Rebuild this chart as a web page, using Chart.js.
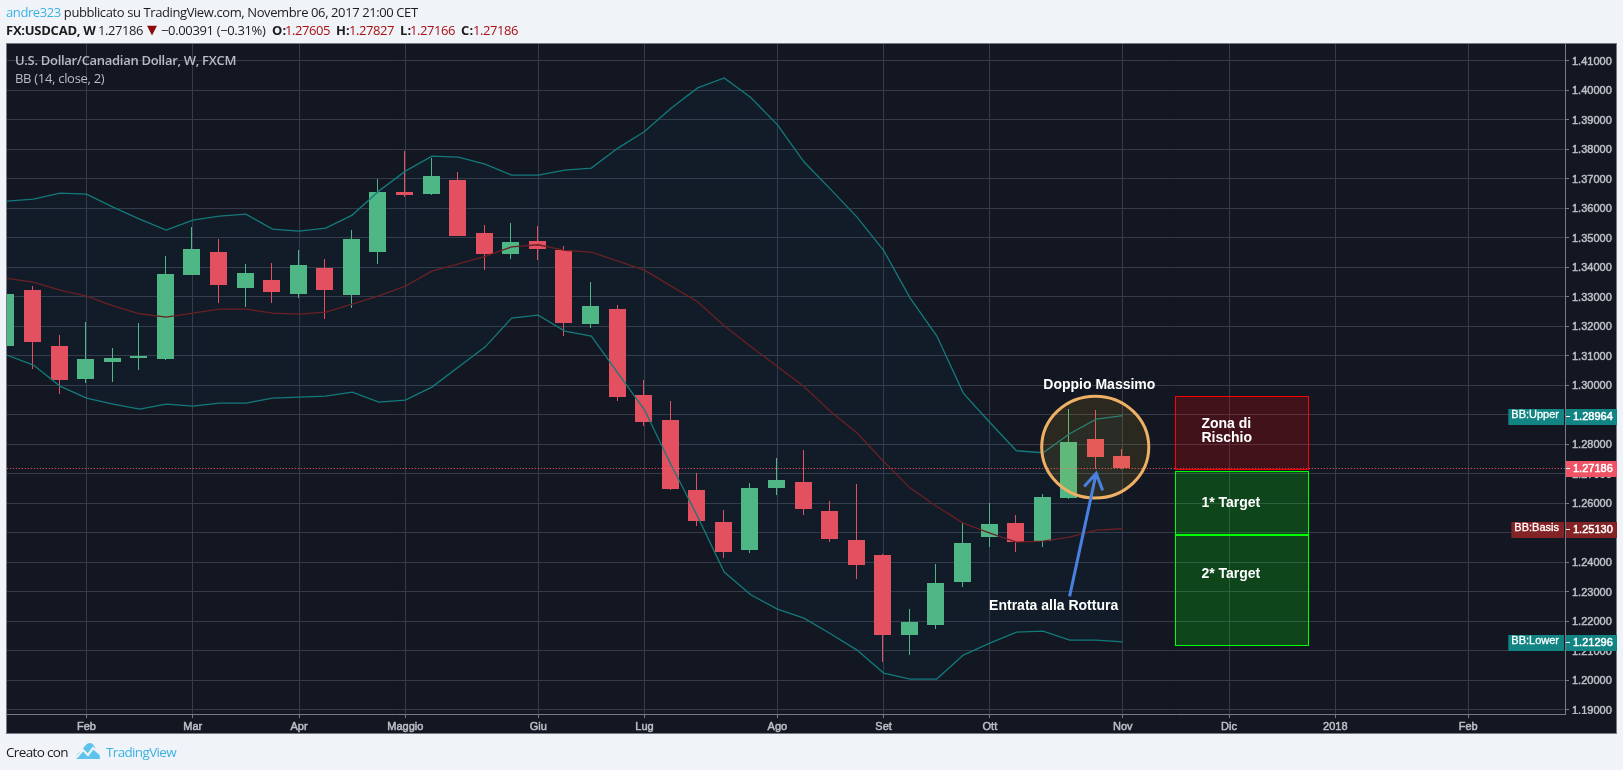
<!DOCTYPE html>
<html>
<head>
<meta charset="utf-8">
<title>USDCAD weekly</title>
<script src="https://cdn.jsdelivr.net/npm/chart.js@4"></script>
<style>
  html, body { margin: 0; padding: 0; background: #f0f3f7; overflow: hidden; }
  body { position: relative; width: 1623px; height: 770px; font-family: "Open Sans", sans-serif; color: #1c1c1c; }
  .panel { position: absolute; left: 6px; top: 43px; width: 1609px; height: 689px; background: #131722; border: 1px solid #787b86; }
  canvas { position: absolute; left: 0; top: 0; }
  .line { position: absolute; left: 6px; white-space: nowrap; font-size: 13px; line-height: 18px; }
  .row1 { letter-spacing: -0.4px; }
  .foot { font-size: 13.5px; letter-spacing: -0.65px; }
  .cell { position: absolute; top: 21px; white-space: nowrap; font-size: 13px; line-height: 18px; letter-spacing: -0.45px; }
  .cell.b { font-weight: 700; letter-spacing: 0.1px; }
  .user, .brand { color: #3bb3e4; }
  .red { color: #a80f14; }
  .tri { color: #8b0a0a; font-family: "DejaVu Sans"; font-size: 13px; letter-spacing: 0; }
  .legend { position: absolute; left: 15px; white-space: nowrap; font-size: 13px; line-height: 18px; color: #b8bbc4; letter-spacing: -0.3px; }
  .logo { position: absolute; left: 76px; top: 743px; }
</style>
</head>
<body>
<div class="panel"></div>
<canvas id="chart" width="1623" height="770"></canvas>
<div class="line row1" style="top:3px"><span class="user">andre323</span> pubblicato su TradingView.com, Novembre 06, 2017 21:00 CET</div>
<span class="cell b" style="left:6px;letter-spacing:-0.25px">FX:USDCAD, W</span>
<span class="cell" style="left:98px">1.27186</span>
<span class="cell tri" style="left:147px">▼</span>
<span class="cell" style="left:161px;letter-spacing:-0.35px">−0.00391 (−0.31%)</span>
<span class="cell b" style="left:272px">O:</span>
<span class="cell red" style="left:285px">1.27605</span>
<span class="cell b" style="left:336px">H:</span>
<span class="cell red" style="left:349px">1.27827</span>
<span class="cell b" style="left:400px">L:</span>
<span class="cell red" style="left:410px">1.27166</span>
<span class="cell b" style="left:461px">C:</span>
<span class="cell red" style="left:473px">1.27186</span>
<div class="legend" style="top:51px;font-weight:600">U.S. Dollar/Canadian Dollar, W, FXCM</div>
<div class="legend" style="top:69px">BB (14, close, 2)</div>
<div class="line foot" style="top:743px">Creato con</div>
<svg class="logo" width="24" height="16" viewBox="0 0 24 16">
  <path fill="#5cc4ec" d="M0 16 C0 11 3 9 6 8 C8 3 11 0 14 0 C17 0 19 4 20 7 C23 8 24 12 24 16 Z"/>
  <path fill="none" stroke="#f0f3f7" stroke-width="2.2" d="M0 15 L7 7 L12 12 L17 5 L24 11"/>
</svg>
<div class="line foot brand" style="top:743px;left:106px">TradingView</div>
<script>
// weekly candles, oldest first
const opens = [1.31333, 1.33232, 1.31333, 1.30215, 1.30791, 1.30927, 1.30893, 1.33740, 1.34520, 1.33299, 1.33571, 1.33096, 1.33977, 1.33062, 1.34520, 1.36554, 1.36486, 1.36960, 1.35164, 1.34452, 1.34893, 1.34588, 1.32079, 1.32588, 1.29672, 1.28825, 1.26452, 1.25367, 1.24418, 1.26520, 1.26723, 1.25740, 1.24757, 1.24249, 1.21537, 1.21876, 1.23333, 1.24859, 1.25333, 1.24723, 1.26181, 1.28181, 1.27605];
const highs = [1.33300, 1.33367, 1.31706, 1.32147, 1.31266, 1.32113, 1.34384, 1.35367, 1.34960, 1.34113, 1.34147, 1.34588, 1.34282, 1.35266, 1.36994, 1.37944, 1.37706, 1.37232, 1.35435, 1.35503, 1.35401, 1.34723, 1.33503, 1.32723, 1.30181, 1.29469, 1.27028, 1.25774, 1.26689, 1.27537, 1.27808, 1.26079, 1.26655, 1.24282, 1.22418, 1.23944, 1.25322, 1.26011, 1.25605, 1.26316, 1.29198, 1.29164, 1.27827];
const lows = [1.31000, 1.30554, 1.29706, 1.30079, 1.30113, 1.30520, 1.30859, 1.33740, 1.32791, 1.32655, 1.32791, 1.32960, 1.32249, 1.32622, 1.34113, 1.36384, 1.36452, 1.35062, 1.33910, 1.34282, 1.34249, 1.31672, 1.31944, 1.29469, 1.28621, 1.26452, 1.25232, 1.24147, 1.24316, 1.26282, 1.25605, 1.24689, 1.23435, 1.20621, 1.20859, 1.21740, 1.23164, 1.24520, 1.24350, 1.24520, 1.26147, 1.27164, 1.27166];
const closes = [1.33096, 1.31469, 1.30181, 1.30893, 1.30927, 1.30994, 1.33774, 1.34621, 1.33401, 1.33808, 1.33164, 1.34079, 1.33232, 1.34960, 1.36554, 1.36452, 1.37096, 1.35062, 1.34452, 1.34859, 1.34621, 1.32113, 1.32689, 1.29605, 1.28757, 1.26486, 1.25401, 1.24350, 1.26520, 1.26791, 1.25808, 1.24791, 1.23910, 1.21537, 1.21977, 1.23299, 1.24655, 1.25299, 1.24689, 1.26215, 1.28079, 1.27571, 1.27186];

// Bollinger bands (14, close, 2)
const bbUpper = [1.36237, 1.36305, 1.36508, 1.36475, 1.36034, 1.35627, 1.35254, 1.35593, 1.35729, 1.35797, 1.35288, 1.35220, 1.35322, 1.35763, 1.36576, 1.37254, 1.37763, 1.37729, 1.37492, 1.37119, 1.37119, 1.37288, 1.37356, 1.38034, 1.38594, 1.39384, 1.40075, 1.40414, 1.39746, 1.38832, 1.37571, 1.36644, 1.35695, 1.34565, 1.32949, 1.31672, 1.29729, 1.28734, 1.27774, 1.27706, 1.28350, 1.28847, 1.28964];
const bbBasis = [1.33616, 1.33492, 1.33220, 1.33017, 1.32689, 1.32418, 1.32305, 1.32441, 1.32576, 1.32576, 1.32441, 1.32407, 1.32475, 1.32746, 1.33028, 1.33356, 1.33864, 1.34113, 1.34362, 1.34689, 1.34757, 1.34565, 1.34508, 1.34203, 1.33898, 1.33356, 1.32825, 1.32011, 1.31311, 1.30633, 1.29955, 1.29107, 1.28373, 1.27412, 1.26508, 1.25887, 1.25322, 1.24983, 1.24678, 1.24712, 1.24847, 1.25085, 1.25130];
const bbLower = [1.31017, 1.30678, 1.29966, 1.29559, 1.29356, 1.29186, 1.29356, 1.29288, 1.29390, 1.29390, 1.29559, 1.29593, 1.29627, 1.29763, 1.29424, 1.29492, 1.29932, 1.30610, 1.31288, 1.32271, 1.32373, 1.31831, 1.31661, 1.30407, 1.29164, 1.27299, 1.25548, 1.23661, 1.22893, 1.22407, 1.22102, 1.21571, 1.21017, 1.20237, 1.20034, 1.20034, 1.20847, 1.21254, 1.21627, 1.21661, 1.21356, 1.21356, 1.21296];

const lastPrice = 1.27186;
const priceTicks = [1.19, 1.20, 1.21, 1.22, 1.23, 1.24, 1.25, 1.26, 1.27, 1.28, 1.29, 1.30, 1.31, 1.32, 1.33, 1.34, 1.35, 1.36, 1.37, 1.38, 1.39, 1.40, 1.41];
const monthTicks = [3, 7, 11, 15, 20, 24, 29, 33, 37, 42, 46, 50, 55];
const monthLabels = ["Feb", "Mar", "Apr", "Maggio", "Giu", "Lug", "Ago", "Set", "Ott", "Nov", "Dic", "2018", "Feb"];

// drawings on the chart: bar index from/to, price top/bottom
const riskZone = [43.97, 48.97, 1.29615, 1.27142];
const target1 = [43.97, 48.97, 1.27098, 1.24957];
const target2 = [43.97, 48.97, 1.24923, 1.21185];
const circleBox = [38.95, 42.98, 1.29626, 1.26170];
const arrowFrom = [40, 1.22840];
const arrowTo = [41, 1.27007];

const GREEN = "#4fb786", RED = "#e35060", TEAL = "#137a7c", MAROON = "#6a2024";
const GRID = "#363a4a", AXIS = "#787b86", TICK_TEXT = "#bcbfc6";
const PANEL_BG = "#131722";
const TEXT_FONT = 'bold 14px "Liberation Sans", Arial, sans-serif';
const TAG_FONT = '11px "Liberation Sans", Arial, sans-serif';

const indexes = opens.map((_, i) => i);
const candleColors = opens.map((o, i) => (closes[i] >= o ? GREEN : RED));
const bandPoints = (values) => values.map((y, i) => ({ x: i, y }));

// bars land on whole pixels so the 1px wicks stay sharp, same for the last price line
const snapBars = {
  id: "snapBars",
  afterDatasetsUpdate(chart) {
    chart.data.datasets.forEach((ds, i) => {
      const meta = chart.getDatasetMeta(i);
      if (meta.type === "bar") {
        meta.data.forEach((bar) => {
          bar.x = Math.floor(bar.x - 0.8) + 0.5;
          bar.y = Math.round(bar.y);
          bar.base = Math.round(bar.base);
        });
      } else if (ds.borderDash) {
        meta.data.forEach((pt) => {
          pt.y = Math.floor(pt.y) + 0.5;
        });
      }
    });
  },
};

const drawZone = (ctx, sx, sy, zone, fill, stroke) => {
  const left = Math.round(sx.getPixelForValue(zone[0])) + 0.5;
  const right = Math.round(sx.getPixelForValue(zone[1])) + 0.5;
  const top = Math.round(sy.getPixelForValue(zone[2])) + 0.5;
  const bottom = Math.round(sy.getPixelForValue(zone[3])) + 0.5;
  ctx.fillStyle = fill;
  ctx.fillRect(left, top, right - left, bottom - top);
  ctx.strokeStyle = stroke;
  ctx.lineWidth = 1;
  ctx.strokeRect(left, top, right - left, bottom - top);
};

const drawings = {
  id: "drawings",
  afterDatasetsDraw(chart) {
    const { ctx, scales, chartArea } = chart;
    const sx = scales.x, sy = scales.y;
    ctx.save();

    drawZone(ctx, sx, sy, riskZone, "rgba(255,0,0,0.2)", "#ff0000");
    drawZone(ctx, sx, sy, target1, "rgba(0,255,0,0.2)", "#00ff00");
    drawZone(ctx, sx, sy, target2, "rgba(0,255,0,0.2)", "#00ff00");

    // circle round the double top
    const cx0 = sx.getPixelForValue(circleBox[0]), cx1 = sx.getPixelForValue(circleBox[1]);
    const cy0 = sy.getPixelForValue(circleBox[2]), cy1 = sy.getPixelForValue(circleBox[3]);
    ctx.beginPath();
    ctx.ellipse((cx0 + cx1) / 2, (cy0 + cy1) / 2, (cx1 - cx0) / 2, (cy1 - cy0) / 2, 0, 0, Math.PI * 2);
    ctx.fillStyle = "rgba(255,198,20,0.1)";
    ctx.fill();
    ctx.strokeStyle = "#eeb064";
    ctx.lineWidth = 3;
    ctx.stroke();

    // arrow
    const ax0 = sx.getPixelForValue(arrowFrom[0]), ay0 = sy.getPixelForValue(arrowFrom[1]);
    const ax1 = sx.getPixelForValue(arrowTo[0]), ay1 = sy.getPixelForValue(arrowTo[1]);
    ctx.strokeStyle = "#4a80e0";
    ctx.lineWidth = 3;
    ctx.beginPath();
    ctx.moveTo(ax0, ay0);
    ctx.lineTo(ax1, ay1);
    ctx.moveTo(ax1 - 12, ay1 + 13);
    ctx.lineTo(ax1, ay1);
    ctx.lineTo(ax1 + 6.5, ay1 + 17);
    ctx.stroke();

    // labels of the drawings
    ctx.fillStyle = "#ffffff";
    ctx.font = TEXT_FONT;
    ctx.textBaseline = "middle";
    ctx.textAlign = "center";
    ctx.fillText("Doppio Massimo", sx.getPixelForValue(41.12), sy.getPixelForValue(1.30015));
    ctx.fillText("Entrata alla Rottura", sx.getPixelForValue(39.4), sy.getPixelForValue(1.22510));
    ctx.textAlign = "left";
    const labelX = sx.getPixelForValue(44.96);
    ctx.fillText("Zona di", labelX, sy.getPixelForValue(1.28690));
    ctx.fillText("Rischio", labelX, sy.getPixelForValue(1.28215));
    ctx.fillText("1* Target", labelX, sy.getPixelForValue(1.26000));
    ctx.fillText("2* Target", labelX, sy.getPixelForValue(1.23590));

    // value tags on the price axis
    const tag = (value, bg, name) => {
      const y = Math.round(sy.getPixelForValue(value));
      ctx.fillStyle = bg;
      ctx.fillRect(chartArea.right + 1, y - 7, 51, 16);
      ctx.fillStyle = "#ffffff";
      ctx.fillRect(chartArea.right + 1, y, 4, 1);
      ctx.font = TAG_FONT;
      ctx.textAlign = "left";
      ctx.lineWidth = 0.5;
      ctx.strokeStyle = "#ffffff";
      ctx.fillText(value.toFixed(5), chartArea.right + 8, y + 1);
      ctx.strokeText(value.toFixed(5), chartArea.right + 8, y + 1);
      if (name) {
        const w = ctx.measureText(name).width + 9;
        ctx.fillStyle = bg;
        ctx.fillRect(chartArea.right - w, y - 7, w - 1, 16);
        ctx.fillStyle = "#ffffff";
        ctx.textAlign = "right";
        ctx.lineWidth = 0.3;
        ctx.fillText(name, chartArea.right - 6, y - 1);
        ctx.strokeText(name, chartArea.right - 6, y - 1);
      }
    };
    tag(bbUpper[bbUpper.length - 1], "#138484", "BB:Upper");
    tag(bbBasis[bbBasis.length - 1], "#832325", "BB:Basis");
    tag(bbLower[bbLower.length - 1], "#138484", "BB:Lower");
    tag(lastPrice, "#ef5366");

    ctx.restore();
  },
  // price labels stop at the time axis
  afterDraw(chart) {
    const { ctx, chartArea } = chart;
    ctx.save();
    ctx.fillStyle = PANEL_BG;
    ctx.fillRect(chartArea.right + 1, chartArea.bottom, 50, 18);
    ctx.restore();
  },
};

const datasets = [
  // wicks first, bodies over them
  {
    type: "bar",
    order: 5,
    data: indexes.map((i) => ({ x: i, y: [lows[i], highs[i]] })),
    backgroundColor: candleColors,
    barThickness: 1,
    grouped: false,
    inflateAmount: 0,
    borderWidth: 0,
  },
  {
    type: "bar",
    order: 4,
    data: indexes.map((i) => ({ x: i, y: [opens[i], closes[i]] })),
    backgroundColor: candleColors,
    barThickness: 17,
    grouped: false,
    inflateAmount: 0,
    borderWidth: 0,
  },
  {
    type: "line",
    order: 3,
    data: bandPoints(bbLower),
    borderColor: TEAL,
    borderWidth: 1.3,
    pointRadius: 0,
    tension: 0,
  },
  {
    type: "line",
    order: 2,
    data: bandPoints(bbUpper),
    borderColor: TEAL,
    borderWidth: 1.3,
    pointRadius: 0,
    tension: 0,
    fill: { target: 2, above: "rgba(10,120,130,0.06)", below: "rgba(10,120,130,0.06)" },
  },
  {
    type: "line",
    order: 2,
    data: bandPoints(bbBasis),
    borderColor: MAROON,
    borderWidth: 1.3,
    pointRadius: 0,
    tension: 0,
  },
  // last price
  {
    type: "line",
    order: 1,
    data: [{ x: 0, y: lastPrice }, { x: 59, y: lastPrice }],
    borderColor: "#ff5a6c",
    borderWidth: 1,
    borderDash: [1, 2],
    pointRadius: 0,
  },
];

new Chart(document.getElementById("chart"), {
  data: { datasets },
  plugins: [snapBars, drawings],
  options: {
    responsive: false,
    animation: false,
    events: [],
    layout: { padding: { left: 7, top: 44, right: 0, bottom: 0 } },
    plugins: {
      legend: { display: false },
      tooltip: { enabled: false },
      filler: { drawTime: "beforeDatasetsDraw" },
    },
    scales: {
      x: {
        type: "linear",
        min: 0.00753,
        max: 58.645,
        offset: false,
        grid: { color: GRID, tickColor: AXIS, tickLength: 4, offset: false },
        border: { color: AXIS },
        ticks: {
          autoSkip: false,
          maxRotation: 0,
          padding: 2,
          color: TICK_TEXT,
          font: { family: '"Liberation Sans", Arial, sans-serif', size: 11 },
          textStrokeColor: TICK_TEXT,
          textStrokeWidth: 0.5,
          callback: (value, index) => monthLabels[index],
        },
        afterBuildTicks: (scale) => {
          scale.ticks = monthTicks.map((value) => ({ value }));
        },
        afterFit: (scale) => {
          scale.height = 56;
          scale.paddingLeft = scale.paddingRight = 0;
        },
      },
      y: {
        type: "linear",
        position: "right",
        min: 1.188508,
        max: 1.415627,
        grid: { color: GRID, tickColor: AXIS, tickLength: 4 },
        border: { color: AXIS },
        ticks: {
          padding: 3,
          labelOffset: 1,
          color: TICK_TEXT,
          font: { family: '"Liberation Sans", Arial, sans-serif', size: 11 },
          textStrokeColor: TICK_TEXT,
          textStrokeWidth: 0.5,
          callback: (value) => value.toFixed(5),
        },
        afterBuildTicks: (scale) => {
          scale.ticks = priceTicks.map((value) => ({ value }));
        },
        afterFit: (scale) => {
          scale.width = 58;
          scale.paddingTop = scale.paddingBottom = 0;
        },
      },
    },
  },
});
</script>
</body>
</html>
